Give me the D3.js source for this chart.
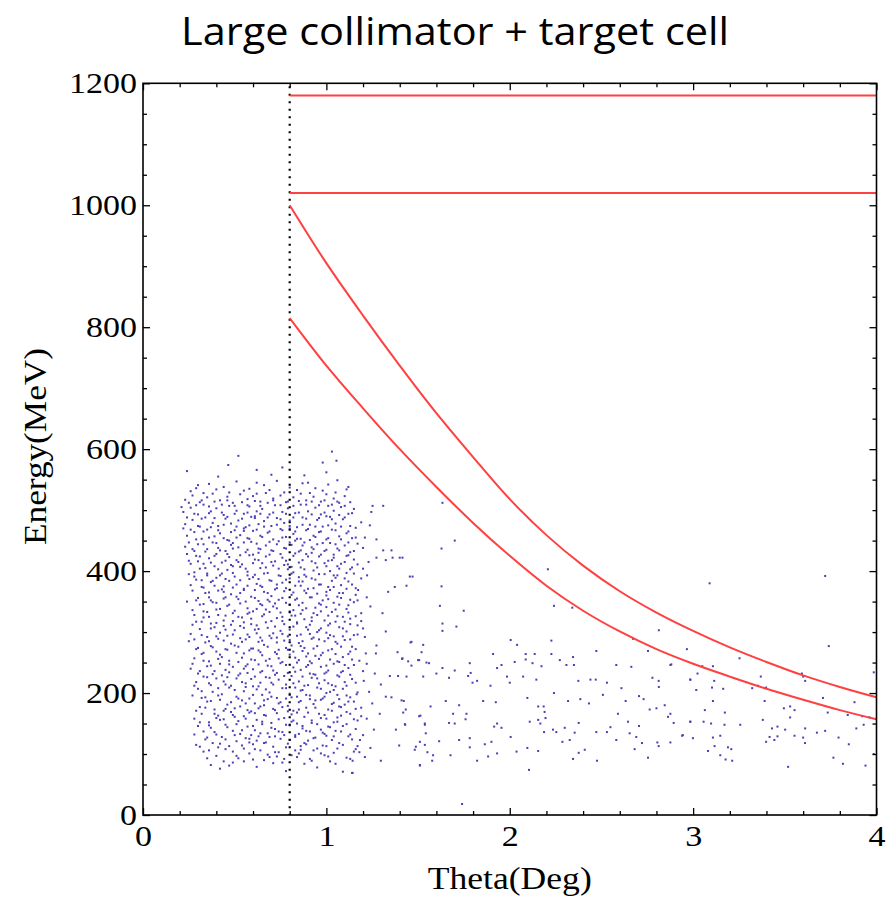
<!DOCTYPE html>
<html>
<head>
<meta charset="utf-8">
<script src="https://cdn.jsdelivr.net/npm/d3@7"></script>
<style>
    body { margin: 0; background: #fff; }
</style>
</head>
<body>
<div id="app"></div>
<script>
const chartTitle = 'Large collimator + target cell'
const xLabel = 'Theta(Deg)'
const yLabel = 'Energy(MeV)'

const xTicks = [0, 1, 2, 3, 4]
const yTicks = [0, 200, 400, 600, 800, 1000, 1200]

// collimator edge (dotted) and the two flat red limits
const cutTheta = 0.8
const flatLevels = [1180, 1020]

// red kinematic curves
const curveTheta  = [0.8, 1.0, 1.2, 1.4, 1.6, 1.8, 2.0, 2.2, 2.4, 2.6, 2.8, 3.0, 3.2, 3.4, 3.6, 3.8, 4.0]
const upperEnergy = [1000, 905, 819, 737, 659, 587, 518, 459, 409, 367, 332, 302, 275, 251, 229, 210, 193]
const lowerEnergy = [815, 737, 667, 600, 538, 479, 425, 376, 335, 301, 272, 248, 227, 207, 189, 172, 157]

// events in the main blob (theta, energy)
const clusterEvents = [
    [0.37,82],[0.42,76],[0.55,88],[0.62,79],[0.71,85],[0.78,72],[0.88,84],[0.95,78],[1.02,88],[1.09,71],[1.14,69],[0.66,90],[0.49,86],
    [0.33,104],[0.40,97],[0.45,108],[0.52,93],[0.58,101],[0.64,106],[0.69,95],[0.74,103],[0.81,98],[0.86,107],[0.91,92],[0.97,101],[1.01,96],[1.06,109],[1.11,94],[1.15,104],[0.55,109],[0.77,92],[0.93,106],
    [0.29,115],[0.34,124],[0.38,118],[0.43,128],[0.47,113],[0.51,121],[0.56,126],[0.60,116],[0.63,129],[0.67,119],[0.71,112],[0.75,125],[0.79,117],[0.83,128],[0.86,113],[0.90,122],[0.94,127],[0.98,114],[1.03,123],[1.07,118],[1.12,129],[1.17,113],[0.41,111],[0.72,129],[0.88,118],[1.00,130],
    [0.30,146],[0.33,137],[0.37,143],[0.40,132],[0.45,148],[0.49,138],[0.53,133],[0.57,145],[0.61,139],[0.65,149],[0.68,134],[0.72,141],[0.76,136],[0.80,147],[0.83,131],[0.87,142],[0.91,137],[0.95,149],[0.99,133],[1.02,144],[1.05,138],[1.09,146],[1.13,132],[1.16,141],[0.59,131],[0.84,150],[0.97,140],
    [0.28,158],[0.32,166],[0.36,152],[0.41,163],[0.44,157],[0.48,169],[0.52,154],[0.55,162],[0.59,170],[0.62,156],[0.66,164],[0.70,151],[0.73,167],[0.77,159],[0.81,153],[0.84,168],[0.88,161],[0.92,155],[0.96,166],[1.00,158],[1.04,152],[1.08,163],[1.11,169],[1.15,157],[1.19,162],[0.50,161],[0.79,170],[1.06,160],
    [0.31,177],[0.35,186],[0.39,173],[0.42,189],[0.46,181],[0.50,175],[0.54,188],[0.57,172],[0.61,183],[0.64,178],[0.68,190],[0.71,174],[0.75,185],[0.79,179],[0.82,171],[0.86,187],[0.89,176],[0.93,182],[0.97,189],[1.01,173],[1.04,184],[1.08,177],[1.12,186],[1.16,174],[0.44,171],[0.66,180],[0.91,190],[1.10,181],
    [0.27,196],[0.30,207],[0.34,193],[0.38,202],[0.43,198],[0.47,209],[0.51,194],[0.55,203],[0.58,191],[0.62,206],[0.65,197],[0.69,201],[0.73,192],[0.76,208],[0.80,199],[0.84,194],[0.87,205],[0.91,196],[0.95,209],[0.98,191],[1.02,202],[1.06,197],[1.09,207],[1.13,193],[1.17,201],[0.56,210],[0.83,209],[1.00,200],
    [0.29,218],[0.33,227],[0.37,213],[0.40,224],[0.44,219],[0.48,212],[0.52,229],[0.56,216],[0.59,223],[0.63,211],[0.67,226],[0.70,217],[0.74,222],[0.78,214],[0.81,228],[0.85,219],[0.88,212],[0.92,225],[0.96,216],[0.99,221],[1.03,213],[1.07,227],[1.10,218],[1.14,223],[0.46,226],[0.72,230],[0.94,230],[1.05,211],
    [0.31,236],[0.35,244],[0.38,231],[0.42,248],[0.45,238],[0.49,243],[0.53,232],[0.57,247],[0.60,239],[0.64,234],[0.68,245],[0.71,237],[0.75,249],[0.79,233],[0.82,242],[0.86,238],[0.90,246],[0.93,231],[0.97,243],[1.01,237],[1.04,248],[1.08,234],[1.12,241],[1.15,246],[0.55,240],[0.84,250],[0.99,232],
    [0.28,257],[0.32,264],[0.36,252],[0.40,268],[0.43,259],[0.47,253],[0.51,266],[0.54,258],[0.58,270],[0.61,254],[0.65,262],[0.69,256],[0.72,267],[0.76,251],[0.80,263],[0.83,258],[0.87,269],[0.91,252],[0.94,261],[0.98,266],[1.02,255],[1.05,264],[1.09,259],[1.13,268],[1.18,253],[0.63,270],[0.89,260],[1.07,251],
    [0.30,274],[0.34,283],[0.37,277],[0.41,289],[0.45,272],[0.48,281],[0.52,276],[0.56,288],[0.59,273],[0.63,284],[0.66,279],[0.70,290],[0.74,271],[0.77,286],[0.81,278],[0.85,282],[0.88,274],[0.92,289],[0.95,277],[0.99,285],[1.03,272],[1.06,281],[1.10,287],[1.14,276],[0.53,290],[0.79,271],[1.01,290],
    [0.26,297],[0.31,305],[0.35,292],[0.39,308],[0.42,299],[0.46,294],[0.50,303],[0.53,310],[0.57,296],[0.61,304],[0.64,291],[0.68,307],[0.71,298],[0.75,302],[0.79,293],[0.82,309],[0.86,296],[0.90,304],[0.93,291],[0.97,306],[1.00,299],[1.04,293],[1.07,308],[1.11,301],[1.15,295],[0.44,310],[0.73,291],[0.95,300],
    [0.29,317],[0.33,324],[0.37,314],[0.41,328],[0.44,319],[0.48,312],[0.52,325],[0.55,316],[0.59,322],[0.62,311],[0.66,329],[0.70,318],[0.73,323],[0.77,313],[0.81,327],[0.84,316],[0.88,321],[0.91,312],[0.95,328],[0.99,319],[1.02,314],[1.06,326],[1.10,317],[1.13,322],[1.17,311],[0.57,330],[0.86,330],
    [0.27,336],[0.31,345],[0.35,333],[0.38,349],[0.42,338],[0.46,343],[0.49,331],[0.53,347],[0.57,339],[0.60,334],[0.64,346],[0.67,337],[0.71,342],[0.75,332],[0.78,348],[0.82,336],[0.85,344],[0.89,339],[0.93,331],[0.96,347],[1.00,341],[1.03,333],[1.07,345],[1.11,338],[1.15,349],[0.69,350],[0.94,340],
    [0.30,356],[0.34,364],[0.37,352],[0.41,368],[0.45,357],[0.48,362],[0.52,354],[0.55,369],[0.59,358],[0.63,351],[0.66,366],[0.70,359],[0.74,353],[0.77,367],[0.81,361],[0.84,355],[0.88,368],[0.91,357],[0.95,363],[0.98,352],[1.02,369],[1.06,358],[1.09,364],[1.13,353],[1.16,361],[0.43,370],[0.72,370],[1.00,360],
    [0.26,377],[0.29,386],[0.33,373],[0.37,382],[0.40,389],[0.44,375],[0.47,384],[0.51,378],[0.55,371],[0.58,387],[0.62,379],[0.65,374],[0.69,385],[0.73,372],[0.76,381],[0.80,388],[0.83,376],[0.87,383],[0.90,371],[0.94,386],[0.97,378],[1.01,374],[1.05,389],[1.08,377],[1.12,383],[1.16,372],[0.60,390],[0.85,390],
    [0.28,398],[0.31,404],[0.35,393],[0.39,408],[0.43,396],[0.46,402],[0.50,391],[0.53,407],[0.57,399],[0.61,394],[0.64,405],[0.68,397],[0.71,409],[0.75,392],[0.79,403],[0.82,398],[0.86,406],[0.89,391],[0.93,401],[0.96,395],[1.00,408],[1.04,393],[1.07,404],[1.11,397],[1.14,406],[0.48,410],[0.77,410],[1.02,400],
    [0.25,417],[0.29,425],[0.33,412],[0.36,421],[0.40,428],[0.43,414],[0.47,423],[0.51,418],[0.54,411],[0.58,426],[0.61,419],[0.65,413],[0.69,427],[0.72,416],[0.76,422],[0.79,411],[0.83,429],[0.87,418],[0.90,424],[0.94,413],[0.97,427],[1.01,417],[1.04,422],[1.08,412],[1.12,426],[1.15,419],[0.63,430],[0.92,430],
    [0.27,436],[0.30,444],[0.34,432],[0.38,447],[0.41,438],[0.45,433],[0.49,446],[0.52,439],[0.56,431],[0.59,448],[0.63,437],[0.67,442],[0.70,434],[0.74,449],[0.77,438],[0.81,443],[0.85,432],[0.88,447],[0.92,439],[0.95,444],[0.99,433],[1.02,446],[1.06,437],[1.10,442],[1.13,431],[1.17,445],[0.47,450],[0.83,450],
    [0.24,458],[0.28,464],[0.32,453],[0.35,468],[0.39,457],[0.42,462],[0.46,451],[0.50,467],[0.53,459],[0.57,454],[0.60,466],[0.64,458],[0.68,463],[0.71,452],[0.75,469],[0.78,456],[0.82,461],[0.86,453],[0.89,467],[0.93,458],[0.96,464],[1.00,452],[1.03,468],[1.07,457],[1.11,462],[1.14,454],[0.55,470],[0.80,470],
    [0.23,477],[0.27,484],[0.31,473],[0.34,488],[0.38,479],[0.41,474],[0.45,486],[0.48,478],[0.52,483],[0.56,472],[0.59,489],[0.63,477],[0.66,482],[0.70,474],[0.73,487],[0.77,479],[0.80,483],[0.84,472],[0.87,488],[0.91,476],[0.95,484],[0.98,473],[1.02,489],[1.05,478],[1.09,485],[1.13,474],[0.61,490],[1.00,490],
    [0.22,497],[0.26,504],[0.30,493],[0.33,509],[0.37,498],[0.40,503],[0.44,492],[0.47,507],[0.51,499],[0.55,494],[0.58,506],[0.62,498],[0.65,502],[0.69,493],[0.72,508],[0.76,497],[0.79,503],[0.83,495],[0.86,509],[0.90,498],[0.94,504],[0.97,493],[1.01,507],[1.04,499],[1.08,505],[1.12,494],[1.15,502],
    [0.23,517],[0.27,524],[0.31,513],[0.35,521],[0.38,527],[0.42,516],[0.46,522],[0.49,512],[0.53,526],[0.57,518],[0.60,523],[0.64,514],[0.67,528],[0.71,519],[0.75,524],[0.78,513],[0.82,521],[0.86,527],[0.89,516],[0.93,522],[0.97,514],[1.00,526],[1.04,519],[1.07,512],[1.10,523],
    [0.29,536],[0.36,543],[0.44,538],[0.51,547],[0.58,535],[0.66,541],[0.73,548],[0.80,537],[0.87,544],[0.94,536],[1.01,542],[1.06,549],[1.12,538],
    [0.24,564],[0.465,574],[0.52,589],[0.98,578],[1.00,562],[1.03,596],[1.055,581],[0.70,558],[0.62,566],[0.88,557],[0.41,555],[0.76,570]
]

// second pass over the blob, filling the gaps between the first rows
const clusterEventsFill = [
    [0.35,93],[0.44,88],[0.51,97],[0.60,91],[0.68,99],[0.76,86],[0.84,95],[0.92,89],[0.99,98],[1.05,84],[1.13,92],[0.47,81],[0.73,96],
    [0.31,112],[0.36,106],[0.42,117],[0.49,104],[0.54,114],[0.61,108],[0.66,118],[0.72,103],[0.78,111],[0.83,106],[0.89,116],[0.95,109],[1.00,113],[1.04,102],[1.09,115],[1.16,108],[0.58,119],[0.85,101],
    [0.28,132],[0.35,127],[0.39,136],[0.45,124],[0.50,131],[0.54,139],[0.58,125],[0.64,134],[0.69,128],[0.74,137],[0.80,123],[0.85,133],[0.89,138],[0.93,126],[0.98,135],[1.04,129],[1.08,137],[1.14,124],[0.62,122],[0.77,131],
    [0.31,152],[0.36,147],[0.42,156],[0.46,144],[0.51,149],[0.56,158],[0.60,146],[0.65,153],[0.70,143],[0.74,157],[0.78,148],[0.82,155],[0.87,146],[0.92,151],[0.97,159],[1.01,145],[1.06,153],[1.11,149],[1.17,155],[0.40,159],
    [0.29,171],[0.34,176],[0.39,166],[0.45,174],[0.49,164],[0.53,178],[0.58,168],[0.63,175],[0.67,163],[0.72,172],[0.76,177],[0.81,165],[0.85,173],[0.90,168],[0.94,176],[0.99,164],[1.03,171],[1.07,178],[1.13,166],[0.61,167],
    [0.32,192],[0.37,187],[0.41,196],[0.48,185],[0.52,191],[0.56,183],[0.60,197],[0.66,188],[0.70,194],[0.74,183],[0.78,191],[0.85,185],[0.89,197],[0.94,188],[0.99,194],[1.03,182],[1.07,190],[1.11,196],[1.15,186],[0.81,193],
    [0.28,212],[0.32,203],[0.36,216],[0.41,208],[0.45,214],[0.50,205],[0.54,218],[0.60,211],[0.64,217],[0.67,206],[0.71,214],[0.78,208],[0.82,216],[0.86,204],[0.90,213],[0.97,207],[1.01,216],[1.04,205],[1.11,212],[1.16,217],
    [0.30,232],[0.35,226],[0.39,236],[0.43,229],[0.47,234],[0.51,224],[0.57,233],[0.61,227],[0.65,236],[0.69,225],[0.73,233],[0.77,228],[0.83,235],[0.87,227],[0.91,232],[0.95,224],[1.00,234],[1.06,229],[1.09,236],[1.13,230],
    [0.27,248],[0.33,253],[0.37,245],[0.41,256],[0.47,247],[0.52,251],[0.56,244],[0.59,255],[0.63,247],[0.67,253],[0.70,244],[0.74,257],[0.78,246],[0.85,254],[0.89,243],[0.92,249],[0.96,256],[1.00,245],[1.06,252],[1.10,246],[1.14,255],
    [0.29,272],[0.33,266],[0.38,275],[0.42,263],[0.46,271],[0.50,278],[0.55,265],[0.60,273],[0.64,267],[0.68,276],[0.73,264],[0.78,274],[0.82,268],[0.86,277],[0.90,265],[0.93,273],[0.97,262],[1.01,270],[1.08,276],[1.12,264],[1.16,272],
    [0.28,288],[0.32,295],[0.36,285],[0.40,293],[0.44,286],[0.49,296],[0.54,284],[0.58,292],[0.62,298],[0.65,286],[0.69,294],[0.73,283],[0.76,297],[0.80,287],[0.84,294],[0.87,285],[0.91,297],[0.96,288],[1.02,295],[1.05,284],[1.09,293],[1.13,288],[1.17,296],
    [0.27,312],[0.32,317],[0.37,306],[0.40,315],[0.45,304],[0.49,318],[0.55,307],[0.59,313],[0.63,305],[0.67,316],[0.72,309],[0.76,318],[0.80,304],[0.84,314],[0.89,308],[0.92,318],[0.96,303],[1.01,311],[1.05,317],[1.09,306],[1.13,313],
    [0.28,328],[0.33,334],[0.36,325],[0.40,337],[0.45,327],[0.50,335],[0.54,324],[0.58,332],[0.62,338],[0.65,326],[0.69,333],[0.73,339],[0.76,325],[0.80,334],[0.83,327],[0.87,336],[0.92,324],[0.97,334],[1.01,327],[1.05,337],[1.09,325],[1.12,332],[1.16,326],
    [0.29,352],[0.33,346],[0.36,357],[0.40,348],[0.44,355],[0.47,345],[0.51,358],[0.56,350],[0.61,356],[0.65,344],[0.68,353],[0.72,347],[0.76,356],[0.80,345],[0.83,353],[0.87,348],[0.92,357],[0.97,345],[1.01,354],[1.04,348],[1.08,356],[1.12,344],[1.17,352],
    [0.27,368],[0.32,374],[0.36,365],[0.39,376],[0.44,366],[0.49,373],[0.53,364],[0.57,376],[0.61,369],[0.64,376],[0.68,364],[0.73,378],[0.78,372],[0.82,365],[0.86,376],[0.89,364],[0.93,372],[0.96,378],[1.00,366],[1.04,374],[1.07,364],[1.11,371],[1.14,378],
    [0.28,391],[0.32,385],[0.35,396],[0.38,384],[0.42,393],[0.45,387],[0.49,397],[0.53,385],[0.57,393],[0.63,387],[0.66,396],[0.70,384],[0.74,393],[0.78,386],[0.81,396],[0.85,383],[0.88,394],[0.92,388],[0.99,395],[1.03,384],[1.06,393],[1.10,388],[1.15,396],
    [0.26,412],[0.30,416],[0.34,405],[0.37,414],[0.41,403],[0.45,417],[0.49,408],[0.52,415],[0.56,404],[0.60,413],[0.63,418],[0.67,406],[0.70,415],[0.74,404],[0.78,417],[0.81,407],[0.85,414],[0.88,403],[0.92,416],[0.95,406],[0.99,413],[1.03,418],[1.06,408],[1.10,415],[1.13,403],[1.17,411],
    [0.24,428],[0.28,433],[0.31,424],[0.35,436],[0.39,425],[0.42,434],[0.46,428],[0.49,437],[0.53,426],[0.57,435],[0.60,427],[0.64,436],[0.67,424],[0.71,433],[0.75,428],[0.78,437],[0.82,425],[0.86,434],[0.89,428],[0.93,436],[0.96,424],[1.00,435],[1.04,427],[1.07,434],[1.11,425],[1.15,433],
    [0.25,447],[0.29,452],[0.33,444],[0.36,455],[0.40,446],[0.44,454],[0.48,443],[0.51,455],[0.55,447],[0.58,453],[0.62,445],[0.65,456],[0.69,448],[0.73,444],[0.76,455],[0.80,447],[0.84,453],[0.87,442],[0.91,451],[0.94,456],[0.98,446],[1.01,454],[1.05,444],[1.08,452],[1.12,447],[1.16,455],
    [0.26,468],[0.30,474],[0.33,465],[0.37,472],[0.41,467],[0.44,476],[0.48,464],[0.51,473],[0.55,466],[0.58,475],[0.62,468],[0.66,473],[0.69,465],[0.73,476],[0.76,467],[0.80,474],[0.83,465],[0.87,476],[0.90,469],[0.94,473],[0.97,465],[1.01,475],[1.05,467],[1.08,473],[1.12,465],[1.16,471],
    [0.24,488],[0.28,494],[0.32,486],[0.36,495],[0.39,487],[0.43,496],[0.46,489],[0.50,494],[0.54,486],[0.57,496],[0.61,487],[0.64,494],[0.68,488],[0.71,496],[0.75,485],[0.78,494],[0.82,488],[0.85,496],[0.89,486],[0.92,493],[0.96,487],[0.99,496],[1.03,485],[1.07,492],[1.10,488],[1.14,495],
    [0.25,512],[0.29,508],[0.32,516],[0.36,506],[0.39,514],[0.43,509],[0.46,516],[0.50,507],[0.54,513],[0.57,508],[0.61,515],[0.64,507],[0.68,512],[0.71,516],[0.75,508],[0.79,514],[0.82,507],[0.85,515],[0.89,509],[0.92,514],[0.96,508],[0.99,516],[1.03,509],[1.06,514],[1.10,507],[1.13,513],
    [0.26,531],[0.33,528],[0.40,534],[0.47,529],[0.55,532],[0.62,527],[0.69,533],[0.77,529],[0.84,533],[0.91,528],[0.98,532],[1.05,529],[1.11,534],[0.30,541],[0.62,545],[0.90,545],
    [0.21,505],[0.22,470],[0.23,440],[0.25,395],[0.24,350],[0.25,285],[0.26,240]
]

// sparse events outside the blob (theta, energy)
const tailEvents = [
    [1.19,480],[1.21,455],[1.20,438],[1.23,415],[1.19,388],[1.22,357],[1.24,342],[1.19,318],[1.22,248],[1.20,236],[1.25,183],[1.19,176],[1.22,158],[1.20,131],[1.24,110],[1.18,103],[1.21,95],
    [1.19,331],[1.306,331],[1.20,306],[1.324,301],[1.21,292],[1.273,278],[1.215,265],[1.27,265],[1.388,267],[1.413,256],[1.459,283],[1.528,279],[1.446,252],[1.50,254],[1.546,250],[1.204,220],[1.264,232],[1.346,228],[1.391,228],[1.297,214],[1.233,202],[1.324,194],[1.355,193],[1.41,188],[1.433,173],[1.506,162],[1.165,198],[1.291,166],[1.259,140],[1.379,140],[1.43,148],[1.537,148],[1.183,123],[1.397,114],[1.488,112],[1.537,115],[1.143,89],[1.297,89],[1.51,82],[1.143,69],
    [1.252,507],[1.237,475],[1.273,452],[1.31,434],[1.355,434],[1.273,422],[1.324,418],[1.361,422],[1.40,422],[1.20,404],[1.222,393],[1.337,366],[1.373,374],[1.437,376],[1.47,391],[1.173,369],[1.31,507],[1.245,497],[1.455,391],
    [1.633,512],[1.70,450],[1.628,437],[1.415,422],[1.628,375],[1.619,343],[1.749,335],[1.633,314],[1.709,309],[1.633,302],[2.208,403],[2.241,343],[2.341,340],[2.813,303],[2.966,272],[2.672,289],[2.227,286],[2.005,287],[1.464,284],[1.519,267],[3.74,277],[3.253,257],[3.09,380],[3.72,392],
    [2.04,279],[2.227,264],[1.909,264],[2.472,269],[2.345,259],[2.087,264],[2.136,264],[2.087,255],[2.027,251],[2.124,249],[2.173,244],[2.273,254],[2.309,246],[2.35,246],[2.581,246],[2.663,243],[2.754,269],[2.876,246],[1.782,249],[1.955,246],[1.931,241],[1.633,241],[1.70,237],[1.56,249],[1.506,254],[1.464,245],[1.415,257],[1.437,227],[1.528,227],[1.60,232],[1.669,225],[1.773,228],[1.797,217],[1.822,220],[1.895,212],[1.985,227],[2.0,217],[2.073,227],[2.145,222],[2.374,220],[2.44,222],[2.469,222],[2.53,217],[2.778,225],[2.812,220],[2.813,210],[2.985,222],[3.017,205],[2.881,247],
    [2.609,208],[2.508,197],[2.705,195],[2.73,190],[2.632,187],[2.432,183],[2.385,190],[2.318,187],[2.241,200],[2.096,192],[1.924,185],[1.855,187],[1.724,180],[1.651,187],[1.568,178],[1.422,187],[1.419,168],[1.513,163],[1.691,166],[1.764,166],[1.669,151],[1.70,150],[1.537,150],[1.428,149],[1.724,123],[1.615,121],[1.542,134],[1.51,120],[1.482,107],[1.551,103],[1.582,98],[1.577,89],[1.51,81],[1.677,98],[1.782,126],[1.782,111],[1.822,89],[1.864,116],[1.882,96],[1.90,120],[1.931,101],[1.915,145],[1.955,143],[2.005,128],[2.037,104],[2.096,110],[2.105,74],[2.109,153],[2.155,156],[2.195,159],[2.155,105],[2.187,136],[2.236,140],[2.254,136],[2.287,120],[2.30,143],[2.354,135],[2.376,151],[2.409,107],[2.345,92],[2.476,89],[2.472,136],[2.53,136],[2.549,144],[2.581,123],[2.59,166],[2.645,153],[2.654,134],[2.69,128],[2.681,108],[2.705,146],[2.721,118],[2.754,94],[2.763,173],[2.80,175],[2.845,180],[2.863,161],[2.876,166],[2.894,151],[2.944,131],[2.985,153],[2.999,126],[2.805,119],[2.812,113],[2.876,119],[1.931,150],[1.759,157],[1.787,233],[2.19,169],[2.167,150],[2.155,178],[2.185,178],[2.327,123],[2.376,102],[1.74,18],
    [3.05,244],[3.108,244],[3.024,232],[3.593,232],[3.985,234],[2.984,222],[3.115,220],[3.369,227],[3.6,227],[3.611,220],[3.103,209],[3.164,207],[3.322,208],[3.354,212],[3.398,209],[3.108,187],[3.39,187],[3.708,192],[3.88,185],[3.064,172],[3.173,168],[3.495,175],[3.529,178],[3.553,172],[3.734,168],[3.843,164],[3.922,162],[3.962,160],[3.529,160],[3.38,156],[2.984,153],[3.057,153],[3.098,150],[3.171,148],[3.257,148],[3.93,148],[3.89,142],[3.43,142],[3.46,145],[3.502,140],[3.611,142],[3.675,135],[3.72,138],[2.94,130],[3.108,127],[3.148,130],[3.417,128],[3.46,129],[3.553,130],[3.6,127],[3.61,118],[3.398,120],[3.443,123],[3.793,127],[3.117,113],[3.081,105],[3.19,111],[3.208,108],[3.148,98],[3.177,91],[3.213,89],[3.765,94],[3.817,84],[3.94,81],[3.849,116],[3.985,100],[3.518,79]
]

const width = 896
const height = 909
const margin = {top: 83.3, right: 19.5, bottom: 94, left: 143}

const x = d3.scaleLinear().domain([0, 4]).range([margin.left, width - margin.right])
const y = d3.scaleLinear().domain([0, 1200]).range([height - margin.bottom, margin.top])

const svg = d3.create('svg')
    .attr('width', width)
    .attr('height', height)
    .attr('viewBox', [0, 0, width, height])

svg.append('text')
    .attr('x', 455)
    .attr('y', 45)
    .attr('text-anchor', 'middle')
    .attr('font-family', '"Open Sans", "Noto Sans", sans-serif')
    .attr('font-weight', 400)
    .attr('font-size', 38)
    .attr('textLength', 548)
    .attr('lengthAdjust', 'spacingAndGlyphs')
    .text(chartTitle)

// events
svg.append('g')
    .selectAll('rect')
    .data(clusterEvents.concat(clusterEventsFill, tailEvents))
    .join('rect')
    .attr('x', d => x(d[0]) - 1)
    .attr('y', d => y(d[1]) - 1)
    .attr('width', 2)
    .attr('height', 2)
    .attr('fill', '#4b3fb5')

// dotted collimator edge
svg.append('line')
    .attr('x1', x(cutTheta)).attr('x2', x(cutTheta))
    .attr('y1', y(1200) + 3).attr('y2', y(0))
    .attr('stroke', '#000')
    .attr('stroke-width', 2.2)
    .attr('stroke-dasharray', '2,5.5')

// red limits
const red = '#ff4040'
svg.append('g')
    .selectAll('line')
    .data(flatLevels)
    .join('line')
    .attr('x1', x(cutTheta))
    .attr('x2', x(4))
    .attr('y1', d => y(d))
    .attr('y2', d => y(d))
    .attr('stroke', red)
    .attr('stroke-width', 2)

const curve = d3.line()
    .x((d, i) => x(curveTheta[i]))
    .y(d => y(d))
    .curve(d3.curveCatmullRom)

svg.append('g')
    .selectAll('path')
    .data([upperEnergy, lowerEnergy])
    .join('path')
    .attr('d', curve)
    .attr('fill', 'none')
    .attr('stroke', red)
    .attr('stroke-width', 2)

// ticks on all four sides, pointing inwards
const xMinor = d3.range(0, 4.001, 0.2).filter(v => Math.abs(v - Math.round(v)) > 1e-6)
const yMinor = d3.range(0, 1201, 50).filter(v => v % 200 !== 0)

function addAxis(gen, tx, ty) {
    const g = svg.append('g')
        .attr('transform', `translate(${tx},${ty})`)
        .call(gen)
    g.select('.domain').remove()
    g.selectAll('line').attr('stroke', '#000').attr('stroke-width', 1.3)
    return g
}

const bottom = addAxis(d3.axisBottom(x).tickValues(xTicks).tickSize(-7).tickPadding(10).tickFormat(d3.format('d')), 0, y(0))
const left = addAxis(d3.axisLeft(y).tickValues(yTicks).tickSize(-7).tickPadding(6).tickFormat(d3.format('d')), x(0), 0)
addAxis(d3.axisTop(x).tickValues(xTicks).tickSize(-7).tickFormat(''), 0, y(1200))
addAxis(d3.axisRight(y).tickValues(yTicks).tickSize(-7).tickFormat(''), x(4), 0)
addAxis(d3.axisBottom(x).tickValues(xMinor).tickSize(-4).tickFormat(''), 0, y(0))
addAxis(d3.axisTop(x).tickValues(xMinor).tickSize(-4).tickFormat(''), 0, y(1200))
addAxis(d3.axisLeft(y).tickValues(yMinor).tickSize(-4).tickFormat(''), x(0), 0)
addAxis(d3.axisRight(y).tickValues(yMinor).tickSize(-4).tickFormat(''), x(4), 0)

;[bottom, left].forEach(g => {
    g.attr('font-family', '"Liberation Serif", "Times New Roman", serif')
        .attr('font-size', 29)
    g.selectAll('text')
        .attr('fill', '#000')
        .attr('textLength', d => String(d).length * 17)
        .attr('lengthAdjust', 'spacingAndGlyphs')
})

// frame
svg.append('rect')
    .attr('x', x(0))
    .attr('y', y(1200))
    .attr('width', x(4) - x(0))
    .attr('height', y(0) - y(1200))
    .attr('fill', 'none')
    .attr('stroke', '#000')
    .attr('stroke-width', 1.6)

svg.append('text')
    .attr('x', x(2))
    .attr('y', 889)
    .attr('text-anchor', 'middle')
    .attr('font-family', '"Liberation Serif", "Times New Roman", serif')
    .attr('font-size', 31)
    .attr('textLength', 164)
    .attr('lengthAdjust', 'spacingAndGlyphs')
    .text(xLabel)

svg.append('text')
    .attr('transform', `translate(46,${(348 + 545) / 2}) rotate(-90)`)
    .attr('text-anchor', 'middle')
    .attr('font-family', '"Liberation Serif", "Times New Roman", serif')
    .attr('font-size', 32)
    .attr('textLength', 197)
    .attr('lengthAdjust', 'spacingAndGlyphs')
    .text(yLabel)

d3.select('#app').append(() => svg.node())
</script>
</body>
</html>
